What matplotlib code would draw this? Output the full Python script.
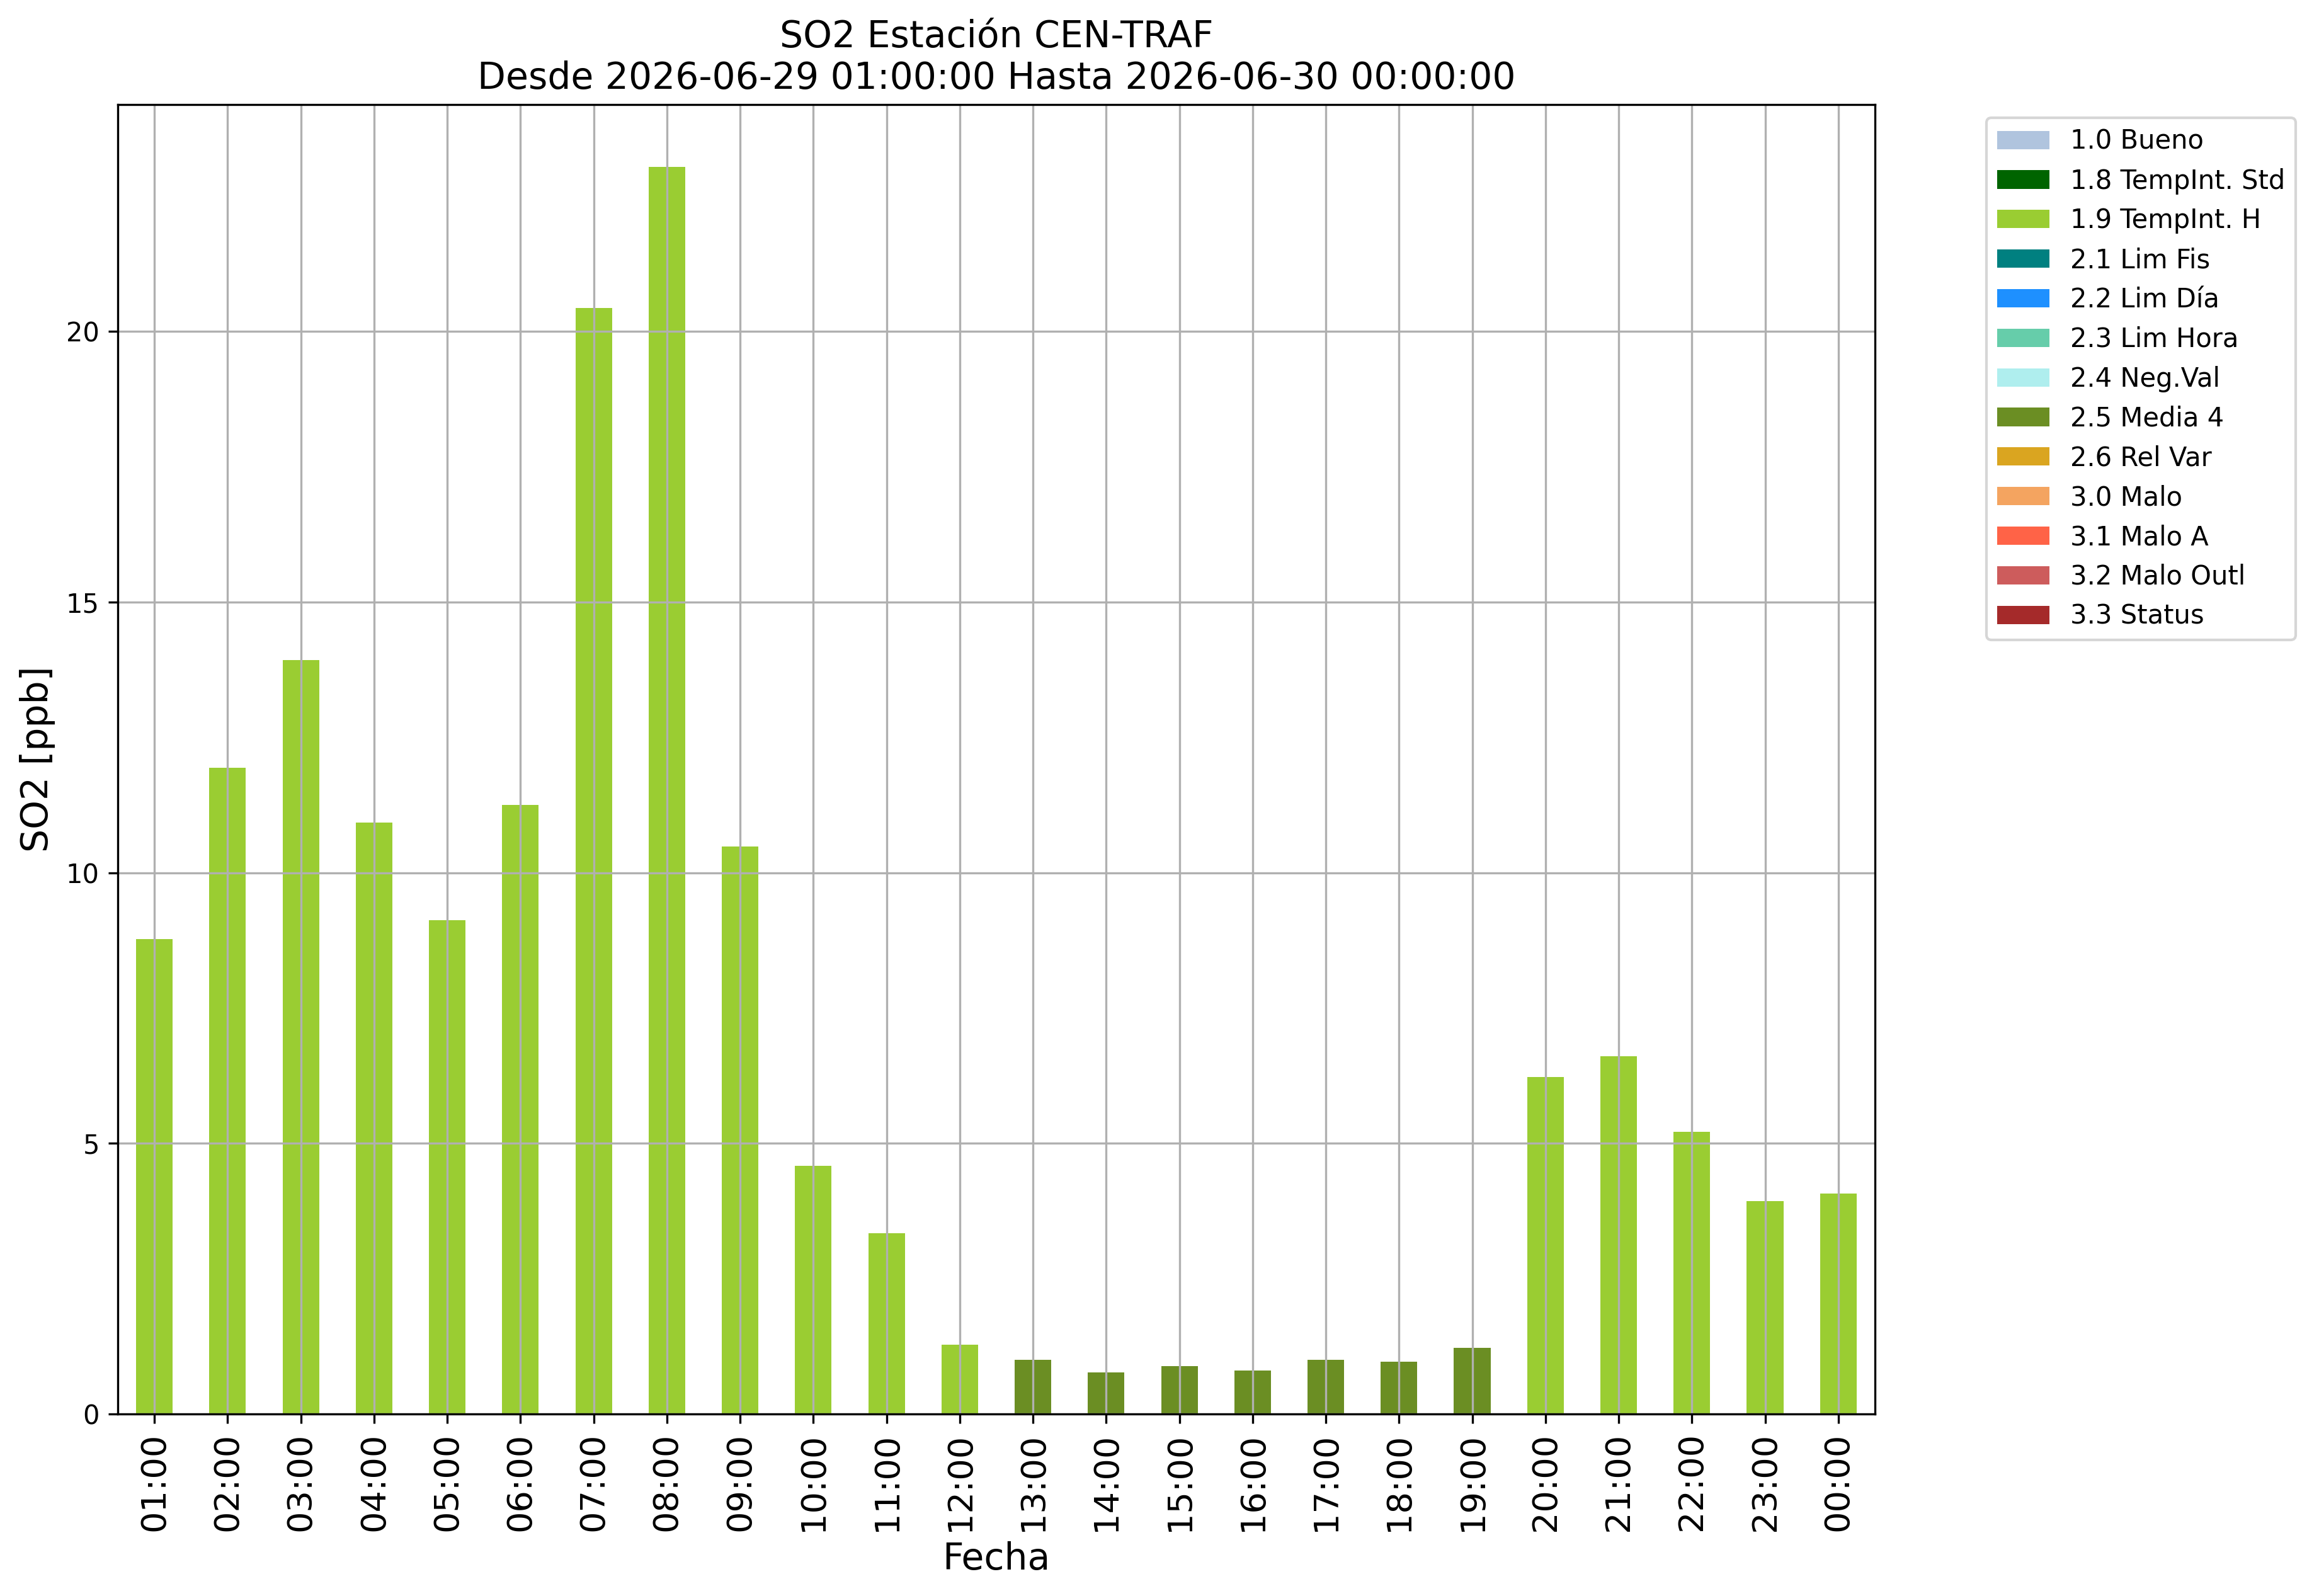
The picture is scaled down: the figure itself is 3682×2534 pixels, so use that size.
import matplotlib
matplotlib.use("Agg")
import matplotlib.pyplot as plt
import numpy as np

# hourly SO2 values
hours = ["01:00", "02:00", "03:00", "04:00", "05:00", "06:00", "07:00", "08:00",
         "09:00", "10:00", "11:00", "12:00", "13:00", "14:00", "15:00", "16:00",
         "17:00", "18:00", "19:00", "20:00", "21:00", "22:00", "23:00", "00:00"]
so2 = [8.77, 11.94, 13.93, 10.93, 9.13, 11.26, 20.44, 23.04, 10.49, 4.59, 3.34, 1.28,
       1.00, 0.77, 0.89, 0.81, 1.00, 0.97, 1.22, 6.23, 6.61, 5.22, 3.93, 4.07]
# validation flag of each hour
flags = ["1.9"] * 12 + ["2.5"] * 7 + ["1.9"] * 5

flag_codes = ["1.0", "1.8", "1.9", "2.1", "2.2", "2.3", "2.4", "2.5", "2.6",
              "3.0", "3.1", "3.2", "3.3"]
flag_names = ["1.0 Bueno", "1.8 TempInt. Std", "1.9 TempInt. H", "2.1 Lim Fis",
              "2.2 Lim Día", "2.3 Lim Hora", "2.4 Neg.Val", "2.5 Media 4",
              "2.6 Rel Var", "3.0 Malo", "3.1 Malo A", "3.2 Malo Outl", "3.3 Status"]
flag_colors = ["lightsteelblue", "darkgreen", "yellowgreen", "teal", "dodgerblue",
               "mediumaquamarine", "paleturquoise", "olivedrab", "goldenrod",
               "sandybrown", "tomato", "indianred", "brown"]

fig = plt.figure(figsize=(3682 / 300, 2534 / 300), dpi=300)
ax = fig.add_axes([0.0508, 0.1140, 0.7577, 0.8204])

x = np.arange(len(hours))
vals = np.array(so2)
fl = np.array(flags)
bottom = np.zeros(len(hours))
for code, name, col in zip(flag_codes, flag_names, flag_colors):
    h = np.where(fl == code, vals, 0.0)
    ax.bar(x, h, width=0.5, bottom=bottom, color=col, label=name)
    bottom += h

ax.set_xlim(-0.5, len(hours) - 0.5)
ax.set_ylim(0, bottom.max() * 1.05)  # same 5% headroom as autoscale
ax.set_xticks(x)
ax.set_xticklabels(hours, rotation=90, fontsize=13)
ax.grid(True)
ax.set_xlabel("Fecha", fontsize=14)
ax.set_ylabel("SO2 [ppb]", fontsize=14)
ax.set_title("SO2 Estación CEN-TRAF\nDesde 2026-06-29 01:00:00 Hasta 2026-06-30 00:00:00",
             fontsize=14)
ax.legend(loc="upper left", bbox_to_anchor=(1.056, 1))

fig.savefig("out.png", dpi=300)
